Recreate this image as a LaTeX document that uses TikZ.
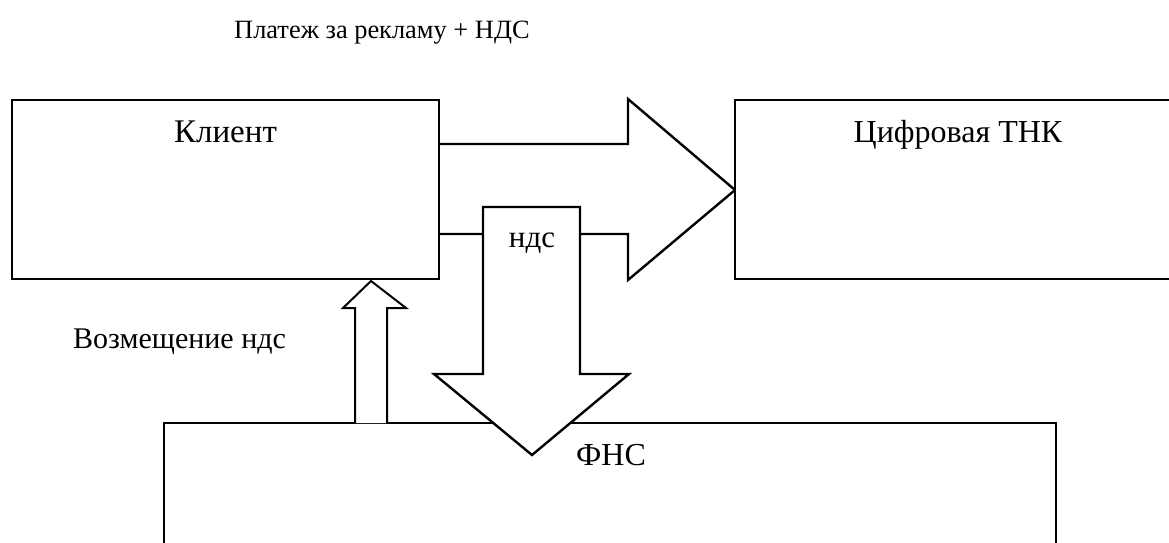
\documentclass[tikz,border=0pt]{standalone}
\usepackage{fontspec}
\setmainfont{Liberation Serif}
\begin{document}
\begin{tikzpicture}[x=1pt,y=-1pt, line width=2.4pt, line join=miter,
  box/.style={draw, fill=white, outer sep=0pt, inner sep=0pt, anchor=north west},
  fat/.style={draw, fill=white},
  lbl/.style={inner sep=0pt}]
\clip (0,0) rectangle (1169,543);
% payment arrow (client -> digital TNC)
\draw[fat] (439,144) -- (628,144) -- (628,99) -- (735,190) -- (628,280) -- (628,234) -- (439,234);
% boxes
\node[box, minimum width=427pt, minimum height=179pt] (client) at (12,100) {};
\node[box, minimum width=500pt, minimum height=179pt] (tnk) at (735,100) {};
\node[box, minimum width=892pt, minimum height=200pt] (fns) at (164,423) {};
% VAT arrow (down to FNS)
\draw[fat] (483,207) -- (580,207) -- (580,374) -- (629,374) -- (532,455) -- (434,374) -- (483,374) -- cycle;
% refund arrow (up to client)
\draw[fat, line width=2pt] (355,423) -- (355,308) -- (343,308) -- (371,281) -- (406,308) -- (387,308) -- (387,423);
% labels
\node[lbl, font=\fontsize{26.4}{28}\selectfont, anchor=base west] (pay) at (233,38) {Платеж за рекламу + НДС};
\node[lbl, font=\fontsize{33}{36}\selectfont, anchor=base] (clientlbl) at (225.5,142) {Клиент};
\node[lbl, font=\fontsize{32}{35}\selectfont, anchor=base] (tnklbl) at (958,142) {Цифровая ТНК};
\node[lbl, font=\fontsize{31}{34}\selectfont, anchor=base] (vatlbl) at (532,247) {ндс};
\node[lbl, font=\fontsize{30}{33}\selectfont, anchor=base west] (refund) at (72,348) {Возмещение ндс};
\node[lbl, font=\fontsize{32}{35}\selectfont, anchor=base west] (fnslbl) at (575,465) {ФНС};
\end{tikzpicture}
\end{document}
